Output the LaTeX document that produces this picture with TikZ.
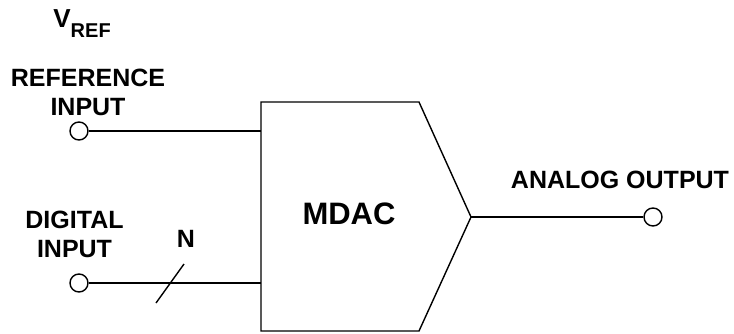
\documentclass[tikz,border=0pt]{standalone}
\usepackage{fontspec}
\setmainfont{Liberation Sans}
\usetikzlibrary{calc,positioning}

\begin{document}
\begin{tikzpicture}[x=0.5pt,y=-0.5pt,
		wire/.style={line width=0.7pt},
		term/.style={draw,circle,inner sep=0pt,minimum size=9pt,line width=0.7pt,fill=white},
		lbl/.style={inner sep=0pt,align=center,font=\bfseries\fontsize{12.5}{14.5}\selectfont}]
			
			\useasboundingbox (0,0) rectangle (734,333);
			
			% MDAC block
			\coordinate (tl) at (261,102);
			\coordinate (tr) at (419,102);
			\coordinate (tip) at (471,217);
			\coordinate (br) at (419,331);
			\coordinate (bl) at (261,331);
			\draw[wire, line join=miter] (tl)--(tr)--(tip)--(br)--(bl)--cycle;
			\node[lbl,font=\bfseries\fontsize{15.5}{18}\selectfont] (mdac) at (349,214) {MDAC};
			
			% terminals
			\node[term] (refin) at (79,131) {};
			\node[term] (digin) at (79,283) {};
			\node[term] (aout) at (653,217) {};
			
			\draw[wire] (refin) -- (refin -| tl);
			\draw[wire] (digin) -- (digin -| tl);
			\draw[wire] (tip) -- (aout);
			
			% bus slash
			\coordinate (bus) at (170,283);
			\draw[wire] ($(bus)+(-14,20)$) -- ($(bus)+(14,-19)$);
			
			\node[lbl,anchor=base west,font=\bfseries\fontsize{13}{15}\selectfont] (vref) at (53,27) {V\raisebox{-5pt}{\fontsize{10}{11}\selectfont REF}};
			\node[lbl] (reflbl) at (88,92.5) {REFERENCE\\INPUT};
			\node[lbl] (diglbl) at (74.5,234.5) {DIGITAL\\INPUT};
			\node[lbl] (nlbl) at (186,239) {N};
			\node[lbl] (outlbl) at (620,180.3) {ANALOG OUTPUT};
		\end{tikzpicture}
\end{document}
